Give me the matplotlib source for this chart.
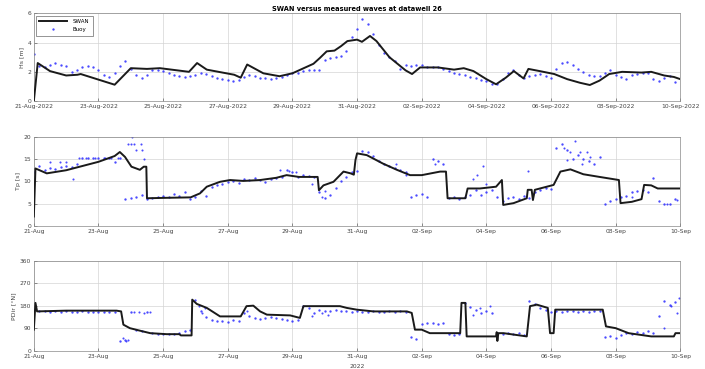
import numpy as np
import matplotlib
matplotlib.use("Agg")
import matplotlib.pyplot as plt
import matplotlib.dates as mdates
from datetime import datetime

# start of the record, all times below are days after this
t0 = mdates.date2num(datetime(2022, 8, 21))

# --- SWAN model (days, value) ---
swan_hs_t = [0.0, 0.12, 0.5, 1.0, 1.35, 1.45, 2.5, 3.0, 3.5, 3.9, 4.8, 5.05, 5.35, 6.2, 6.4, 6.6,
             7.1, 7.6, 8.0, 8.35, 8.65, 8.85, 9.06, 9.3, 9.5, 9.7, 10.0, 10.15, 10.4, 10.6, 11.0,
             11.5, 11.7, 11.95, 12.5, 13.0, 13.3, 13.6, 14.0, 14.3, 14.6, 14.85, 15.15, 15.3,
             15.65, 16.1, 16.5, 16.9, 17.2, 17.5, 17.8, 18.2, 18.8, 19.1, 19.5, 19.8, 20.0]
swan_hs = [0.0, 2.6, 2.05, 1.75, 1.8, 1.85, 1.12, 2.25, 2.2, 2.25, 2.0, 2.6, 2.15, 1.8, 1.6, 2.5,
           1.9, 1.7, 1.9, 2.25, 2.55, 2.95, 3.4, 3.45, 3.75, 4.1, 4.2, 4.05, 4.45, 4.1, 3.0,
           2.1, 1.85, 2.3, 2.3, 2.15, 2.25, 2.05, 1.5, 1.15, 1.6, 2.05, 1.55, 2.2,
           2.05, 1.85, 1.5, 1.25, 1.1, 1.4, 1.85, 2.0, 1.95, 2.0, 1.75, 1.65, 1.5]

swan_tp_t = [0.0, 0.05, 0.4, 1.0, 2.0, 2.5, 2.66, 2.82, 3.02, 3.28, 3.4, 3.48, 3.5, 4.1, 4.85,
             5.14, 5.35, 5.76, 6.07, 6.48, 7.0, 7.5, 7.82, 8.2, 8.78, 8.82, 8.96, 9.27, 9.58,
             9.8, 9.9, 9.95, 10.0, 10.3, 10.8, 11.23, 11.64, 12.0, 12.57, 12.75, 12.8, 13.35,
             13.42, 13.8, 14.3, 14.48, 14.52, 14.84, 15.25, 15.28, 15.4, 15.44, 15.5, 16.08,
             16.29, 16.6, 17.0, 17.5, 18.1, 18.15, 18.5, 18.8, 18.88, 19.1, 19.3, 20.0]
swan_tp = [2.1, 12.9, 11.8, 12.5, 14.4, 15.7, 16.6, 15.5, 13.3, 12.6, 13.3, 13.3, 6.2, 6.3, 6.4,
           7.3, 8.8, 9.9, 10.3, 10.1, 10.3, 10.8, 11.4, 11.0, 11.0, 8.0, 9.1, 9.9, 12.2,
           11.8, 11.5, 14.8, 16.3, 15.9, 14.0, 12.6, 11.4, 11.4, 12.2, 12.2, 6.2, 6.2,
           8.4, 8.4, 8.8, 10.3, 4.7, 5.1, 6.2, 8.1, 8.1, 5.8, 8.1, 9.2,
           12.2, 12.7, 11.6, 11.0, 10.3, 5.1, 5.4, 6.0, 9.2, 9.1, 8.4, 8.4]

swan_dir_t = [0.0, 0.05, 0.1, 1.0, 2.56, 2.7, 2.77, 2.97, 3.28, 3.6, 4.11, 4.5, 4.55, 4.88, 4.9,
              5.04, 5.35, 5.76, 6.4, 6.58, 6.79, 7.0, 7.21, 7.93, 8.23, 8.34, 9.47, 9.68, 9.99,
              10.5, 11.54, 11.69, 11.79, 12.0, 12.25, 13.19, 13.23, 13.35, 13.39, 14.3, 14.32,
              14.34, 14.37, 14.53, 15.25, 15.35, 15.56, 15.9, 15.97, 16.08, 16.13, 17.6, 17.7,
              18.0, 18.4, 19.1, 19.8, 19.85, 20.0]
swan_dir = [85, 192, 158, 161, 161, 158, 105, 91, 81, 71, 67, 67, 62, 62, 205,
            188, 172, 138, 138, 179, 181, 158, 145, 142, 132, 179, 179, 172, 165,
            158, 158, 152, 85, 85, 71, 71, 192, 192, 58, 58, 75,
            40, 71, 71, 58, 179, 185, 172, 71, 71, 165, 165, 98,
            91, 71, 58, 58, 71, 71]

# --- buoy, one value every 4 hours from 21-Aug 00:00 ---
buoy_hs = [3.2, 2.4, 2.35, 2.5, 2.6, 2.45,
           2.4, 2.0, 2.1, 2.3, 2.4, 2.3,
           2.1, 1.8, 1.65, 1.95, 2.4, 2.75,
           2.2, 1.75, 1.6, 1.75, 2.1, 2.15,
           2.05, 1.9, 1.75, 1.7, 1.68, 1.7,
           1.8, 1.95, 1.85, 1.7, 1.6, 1.5,
           1.45, 1.38, 1.45, 1.65, 1.8, 1.7,
           1.6, 1.55, 1.5, 1.6, 1.68, 1.8,
           1.9, 1.95, 2.05, 2.1, 2.15, 2.1,
           2.8, 2.95, 3.0, 3.1, 3.4, 4.4,
           4.9, 5.6, 5.3, 4.6, 3.8, 3.3,
           3.0, 2.75, 2.2, 2.45, 2.4, 2.5,
           2.45, 2.35, 2.3, 2.3, 2.2, 2.05,
           1.95, 1.85, 1.75, 1.65, 1.55, 1.45,
           1.35, 1.2, 1.15, 1.5, 1.9, 2.15,
           1.75, 1.6, 1.7, 1.8, 1.85, 1.7,
           1.6, 2.2, 2.6, 2.7, 2.45, 2.2,
           2.0, 1.75, 1.7, 1.7, 1.9, 2.15,
           1.8, 1.65, 1.5, 1.75, 1.85, 1.95,
           1.9, 1.5, 1.4, 1.55, 1.7, 1.3]

buoy_tp = [12.0, 13.5, 12.5, 13.0, 12.8, 13.2,
           13.5, 13.3, 14.0, 15.3, 15.3, 15.3,
           15.3, 15.3, 15.3, 14.3, 15.3, 6.0,
           6.3, 6.5, 7.0, 6.0, 6.3, 6.5,
           6.8, 6.5, 7.2, 6.8, 7.5, 6.0,
           6.5, 7.8, 6.8, 8.8, 9.2, 9.5,
           9.8, 10.0, 9.6, 10.5, 10.2, 10.8,
           10.2, 9.8, 10.5, 10.8, 11.0, 12.5,
           12.2, 11.0, 11.5, 11.3, 11.0, 7.5,
           6.2, 7.0, 8.5, 10.0, 11.0, 12.0,
           12.3, 16.8, 16.5, 15.6, 14.5, 14.0,
           13.5, 13.0, 12.5, 12.0, 6.5, 7.0,
           7.2, 6.5, 15.0, 14.5, 14.0, 6.3,
           6.5, 6.0, 6.4, 7.0, 8.0, 7.0,
           7.5, 8.0, 6.5, 5.5, 6.2, 6.5,
           6.0, 6.8, 6.2, 7.5, 8.0, 8.5,
           8.3, 17.5, 18.5, 17.0, 15.0, 16.0,
           15.0, 14.5, 14.0, 15.5, 5.0, 5.5,
           6.0, 6.5, 6.8, 7.5, 7.8, 8.0,
           7.5, 10.7, 5.5, 5.0, 4.8, 6.0]

buoy_dir = [165, 158, 160, 157, 158, 156,
            158, 157, 156, 158, 155, 156,
            154, 156, 155, 157, 40, 42,
            155, 85, 78, 155, 70, 68,
            66, 67, 68, 70, 80, 85,
            205, 160, 135, 122, 118, 120,
            115, 122, 120, 150, 140, 130,
            128, 132, 135, 130, 128, 122,
            120, 125, 178, 170, 150, 162,
            158, 160, 162, 158, 160, 157,
            158, 157, 156, 158, 155, 157,
            158, 157, 158, 156, 55, 48,
            108, 112, 110, 108, 112, 66,
            62, 68, 192, 175, 165, 150,
            160, 150, 70, 68, 72, 68,
            70, 65, 200, 188, 172, 162,
            157, 158, 156, 158, 158, 157,
            158, 157, 160, 158, 55, 60,
            50, 65, 70, 68, 75, 72,
            78, 70, 138, 200, 185, 195]

# scattered buoy values outside the main track
extra_tp_t = [0.5, 0.8, 1.0, 1.2, 1.4, 1.6, 1.9, 2.2, 2.4, 2.6, 2.9, 3.0, 3.05, 3.1, 3.15, 3.3,
              3.35, 3.4, 7.6, 7.9, 8.1, 8.6, 8.9, 9.0, 11.2, 11.5, 12.4, 13.6, 13.7, 13.9,
              14.0, 15.3, 16.4, 16.5, 16.6, 16.75, 16.9, 16.95, 17.1, 17.2, 18.5, 19.6, 19.9]
extra_tp = [14.3, 14.3, 14.3, 10.5, 15.3, 15.3, 15.3, 15.3, 15.3, 15.3, 18.5, 18.5, 20.0, 18.5,
            17.0, 18.5, 17.0, 15.0, 12.5, 12.3, 12.0, 9.5, 6.5, 7.8, 13.8, 11.5, 14.0, 10.5,
            11.5, 13.5, 9.5, 12.3, 17.5, 14.8, 16.5, 19.1, 16.5, 14.0, 16.5, 15.5, 6.5, 5.0, 5.8]

extra_dir_t = [2.75, 2.85, 2.92, 3.1, 3.25, 3.4, 3.6, 5.1, 5.2, 5.3, 6.6, 8.6, 8.9, 9.1,
               13.6, 13.8, 14.1, 19.5, 19.7, 19.9, 19.95]
extra_dir = [50, 38, 45, 155, 156, 152, 154, 178, 150, 170, 158, 140, 150, 145,
             145, 170, 178, 90, 180, 152, 210]

buoy_t = np.arange(len(buoy_hs)) / 6.0

panels = [
    (swan_hs_t, swan_hs, buoy_hs, None, None, "Hs [m]", (0, 6), [0, 2, 4, 6], "%d-%b-%Y"),
    (swan_tp_t, swan_tp, buoy_tp, extra_tp_t, extra_tp, "Tp [s]", (0, 20), [0, 5, 10, 15, 20], "%d-%b"),
    (swan_dir_t, swan_dir, buoy_dir, extra_dir_t, extra_dir, "PDir [\u00b0N]", (0, 360), [0, 90, 180, 270, 360], "%d-%b"),
]
boxes = [[0.048, 0.726, 0.917, 0.238],
         [0.048, 0.388, 0.917, 0.241],
         [0.048, 0.049, 0.917, 0.244]]

blue = "#2b2bff"
fig = plt.figure(figsize=(7.05, 3.69), dpi=100)
axes = []
for (st, sv, bv, et, ev, lab, yl, yt, fmt), box in zip(panels, boxes):
    ax = fig.add_axes(box)
    ax.plot(t0 + np.array(st), sv, color="#1a1a1a", lw=1.4, label="SWAN", zorder=3)
    ax.plot(t0 + buoy_t, bv, ".", color=blue, ms=3.4, mew=0, alpha=0.85, label="Buoy", zorder=2)
    if et is not None:
        ax.plot(t0 + np.array(et), ev, ".", color=blue, ms=3.0, mew=0, alpha=0.85, zorder=2)
    ax.set_xlim(t0, t0 + 20)
    ax.set_ylim(*yl)
    ax.set_yticks(yt)
    ax.xaxis.set_major_locator(mdates.DayLocator(bymonthday=[21, 23, 25, 27, 29, 31, 2, 4, 6, 8, 10]))
    ax.xaxis.set_major_formatter(mdates.DateFormatter(fmt))
    ax.set_ylabel(lab, fontsize=4.5, color="#444444", labelpad=2)
    ax.tick_params(labelsize=4.3, colors="#444444", direction="in", length=2, width=0.4, pad=2)
    ax.grid(True, color="#d4d4d4", lw=0.5)
    for s in ax.spines.values():
        s.set_color("#888888")
        s.set_linewidth(0.5)
    axes.append(ax)

axes[0].set_title("SWAN versus measured waves at datawell 26", fontsize=4.8,
                  fontweight="bold", pad=2)
leg = axes[0].legend(loc="upper left", fontsize=4, frameon=True, fancybox=False,
                     edgecolor="#444444", borderpad=0.6, handlelength=5, markerscale=1.0,
                     labelspacing=0.6, borderaxespad=0.4, handletextpad=1.0)
leg.get_frame().set_linewidth(0.5)
axes[2].text(t0 + 10, -0.15, "2022", transform=axes[2].get_xaxis_transform(),
             ha="center", va="top", fontsize=4.3, color="#444444")

fig.savefig("out.png", dpi=100)
